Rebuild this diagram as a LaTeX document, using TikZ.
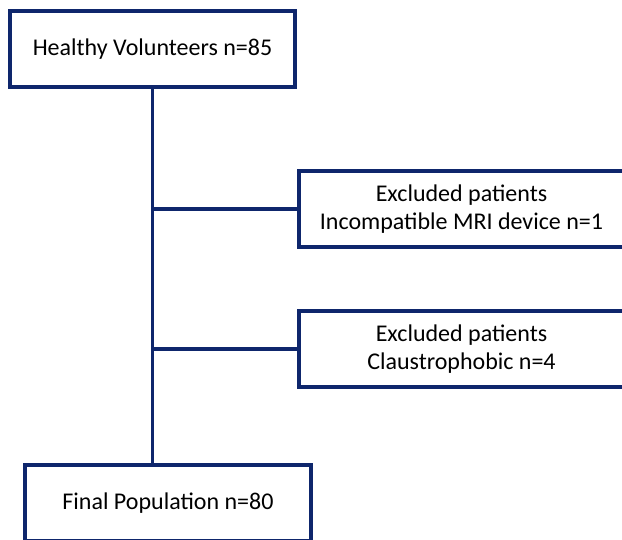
\documentclass[tikz,border=0pt]{standalone}
\usepackage{fontspec}
\setmainfont{Carlito}
\definecolor{navy}{RGB}{14,38,108}
\begin{document}
\begin{tikzpicture}[x=1pt,y=-1pt,
  box/.style={draw=navy, line width=4pt, fill=white, inner sep=0pt,
    minimum height=76pt, align=center, font=\fontsize{24}{28}\selectfont},
  conn/.style={draw=navy, line width=3.5pt}]
\useasboundingbox (0,0) rectangle (622,540);
\node[box, minimum width=285pt] (top) at (152.5,49) {Healthy Volunteers n=85};
\node[box, minimum width=325pt] (ex1) at (461.5,209) {Excluded patients\\Incompatible MRI device n=1};
\node[box, minimum width=325pt] (ex2) at (461.5,349) {Excluded patients\\Claustrophobic n=4};
\node[box, minimum width=286pt] (fin) at (168,503) {Final Population n=80};
\coordinate (b1) at (top.south |- ex1.west);
\coordinate (b2) at (top.south |- ex2.west);
\coordinate (bend) at (top.south |- fin.north);
\draw[conn] (top.south) -- (bend);
\draw[conn] (b1) -- (ex1.west);
\draw[conn] (b2) -- (ex2.west);
\end{tikzpicture}
\end{document}
